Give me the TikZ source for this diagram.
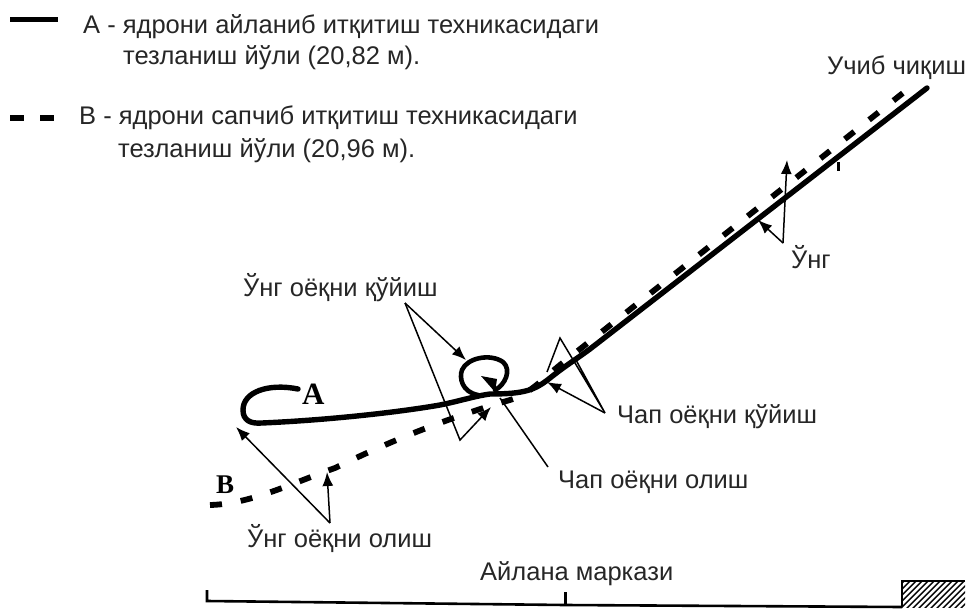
\documentclass[tikz,border=0pt]{standalone}
\usepackage{fontspec}
\setmainfont{Liberation Sans}
\newfontfamily\serifb[BoldFont=Liberation Serif Bold]{Liberation Serif}
\usetikzlibrary{arrows.meta,patterns}
\tikzset{
 lbl/.style={inner sep=0pt,anchor=base west,font=\fontsize{25.5}{28}\selectfont,text=black!85},
 lettera/.style={inner sep=0pt,anchor=base west,font=\fontsize{31}{33}\selectfont\serifb\bfseries},
 letterb/.style={inner sep=0pt,anchor=base west,font=\fontsize{27}{30}\selectfont\serifb\bfseries},
 pathA/.style={line width=5.4pt,line cap=round,line join=round},
 pathB/.style={line width=5.8pt,dash pattern=on 12pt off 19pt},
 leader/.style={line width=1.5pt},
 leadarrow/.style={leader,-{Latex[length=14pt,width=11pt]}},
}
\begin{document}
\begin{tikzpicture}[x=1pt,y=-1pt]
\useasboundingbox (0,0) rectangle (968,612);
% legend
\node[lbl] (la1) at (83,34) {А - ядрони айланиб итқитиш техникасидаги};
\node[lbl] (la2) at (123,65) {тезланиш йўли (20,82 м).};
\node[lbl] (lb1) at (79,125) {В - ядрони сапчиб итқитиш техникасидаги};
\node[lbl] (lb2) at (118,158) {тезланиш йўли (20,96 м).};
\coordinate (ka) at (10,20); \coordinate (kb) at (58,20);
\draw[line width=5pt] (ka) -- (kb);
\coordinate (kc) at (10,118); \coordinate (kd) at (54,118);
\draw[line width=5.5pt,dash pattern=on 14pt off 16pt] (kc) -- (kd);
% labels
\node[lbl] (rkick) at (243,296) {Ўнг оёқни қўйиш};
\node[lbl] (lkick) at (617,423) {Чап оёқни қўйиш};
\node[lbl] (ltake) at (558,488) {Чап оёқни олиш};
\node[lbl] (rtake) at (247,547) {Ўнг оёқни олиш};
\node[lbl] (rgt) at (791,268) {Ўнг};
\node[lbl] (exit) at (827,75) {Учиб чиқиш};
\node[lbl] (cen) at (480,580) {Айлана маркази};
\node[lettera] (A) at (302,404) {A};
\node[letterb] (B) at (216,493) {B};
% path A
\draw[pathA] (298,389) .. controls (268,383) and (243,392) .. (243,410)
  .. controls (243,420) and (250,424) .. (262,423)
  .. controls (330,420) and (400,412) .. (440,405)
  .. controls (460,401) and (475,396) .. (490,394)
  .. controls (525,394) and (535,390) .. (550,378)
  .. controls (565,366) and (575,360) .. (590,349)
  -- (927,88);
% loop on A
\draw[pathA,line width=4.6pt] (478,395) .. controls (462,392) and (459,378) .. (462,370)
  .. controls (467,358) and (490,353) .. (503,362)
  .. controls (512,370) and (505,385) .. (495,390);
\fill (495,392) -- (481,376) -- (497,379) -- cycle;
% path B
\draw[pathB] (210,505) .. controls (250,504) and (290,484) .. (335,468)
  .. controls (380,446) and (440,420) .. (510,400)
  .. controls (530,394) and (545,377) .. (560,365)
  -- (908,89);
% right-foot plant leaders
\coordinate (a1) at (405,303);
\coordinate (t1) at (466,360);
\coordinate (b1) at (460,440);
\coordinate (t2) at (491,407);
\draw[leadarrow] (a1) -- (t1);
\draw[leadarrow] (a1) -- (b1) -- (t2);
% left take-off leader
\coordinate (a2) at (548,467); \coordinate (t3) at (500,398);
\draw[leader] (a2) -- (t3);
% left plant
\coordinate (a3) at (605,413);
\coordinate (m3) at (560,338);
\coordinate (e3) at (547,372);
\coordinate (t4) at (547,382);
\coordinate (e4) at (576,360);
\draw[leader] (e3) -- (m3) -- (a3) -- (e4);
\draw[leadarrow] (a3) -- (t4);
% right
\coordinate (a4) at (783,243);
\coordinate (t5) at (758,220);
\coordinate (t6) at (787,160);
\draw[leadarrow] (a4) -- (t5);
\draw[leadarrow] (a4) -- (t6);
\coordinate (s1) at (838,162); \coordinate (s2) at (838,171);
\draw[line width=3pt] (s1) -- (s2);
% right take-off
\coordinate (a5) at (330,523);
\coordinate (t7) at (236,427);
\coordinate (t8) at (327,472);
\draw[leadarrow] (a5) -- (t7);
\draw[leadarrow] (a5) -- (t8);
% ground line
\coordinate (g0) at (207,590); \coordinate (g1) at (207,601);
\coordinate (g2) at (565,592); \coordinate (g3) at (565,605);
\coordinate (g4) at (902,607);
\draw[line width=2.6pt] (g0) -- (g1) -- (g3) -- (g4);
\draw[line width=3pt] (g2) -- (g3);
\begin{scope}
\clip (902,581) rectangle (965,607);
\foreach \i in {0,6,...,96}{\draw[line width=1.4pt] (876+\i,609) -- (876+\i+30,579);}
\end{scope}
\draw[line width=1.6pt] (902,607) -- (902,581) -- (965,581);
\end{tikzpicture}
\end{document}
